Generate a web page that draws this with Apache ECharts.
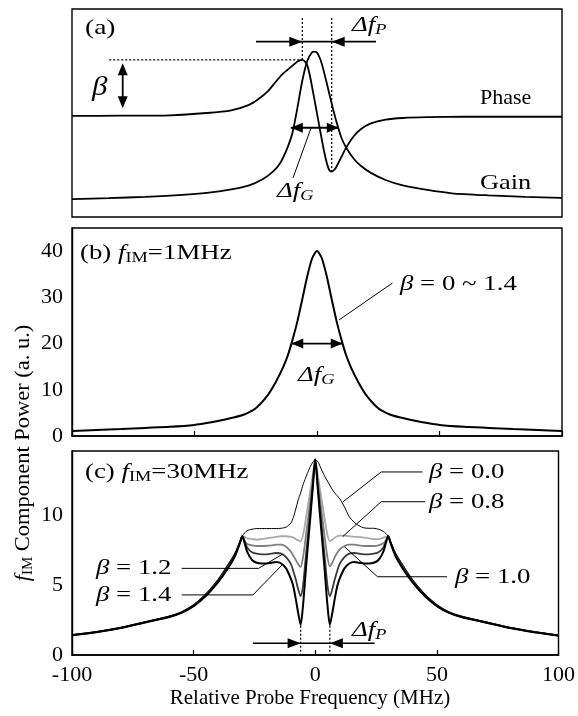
<!DOCTYPE html>
<html>
<head>
<meta charset="utf-8">
<script src="https://cdn.jsdelivr.net/npm/echarts@6.0.0/dist/echarts.min.js"></script>
<style>
html,body{margin:0;padding:0;background:#fff;}
#chart{width:578px;height:716px;}
</style>
</head>
<body>
<div id="chart"></div>
<script>
// ---------- Panel (a): gain and phase profiles (arbitrary units 0-100) ----------
const gainFreq = [-100,-85,-70,-55,-45,-35,-28,-22,-18,-15,-12,-10,-8,-6,-4,-2,-1,0,1,2,4,6,8,10,12,15,18,22,28,35,45,55,70,85,100];
const gainVal  = [8.6,9.1,9.7,10.6,11.6,13.3,15.1,18.3,21.8,26.0,33.5,40.5,52.5,65.5,75.0,79.2,79.5,79.0,76.8,73.5,64.3,54.5,45.5,38.0,33.2,28.0,24.5,21.2,17.8,15.2,13.0,11.4,10.4,9.7,9.2];
const phaseFreq = [-100,-80,-60,-45,-35,-28,-24,-20,-17,-14,-12,-10,-8,-7,-6,-5,-4,-3,-2,-1,0,1,2,3,4,5,6,7,8,10,12,15,18,22,28,35,45,60,80,100];
const phaseVal  = [48.6,48.7,48.9,50.0,51.3,53.8,56.6,60.5,64.8,68.8,70.8,72.8,74.7,75.3,75.5,74.8,73.0,68.5,62.5,56.2,49.8,43.3,37.0,31.0,26.0,22.6,21.8,22.6,24.3,29.0,33.6,38.8,42.3,45.0,46.8,47.6,48.0,48.2,48.2,48.2];

// ---------- Panel (b): fIM = 1 MHz ----------
const freqB  = [-100,-90,-80,-70,-60,-50,-45,-40,-35,-30,-25,-20,-17,-14,-12,-10,-8,-6,-4,-2,0,2,4,6,8,10,12,14,17,20,25,30,35,40,45,50,60,70,80,90,100];
const powerB = [1.1,1.3,1.5,1.75,2.0,2.4,2.8,3.3,3.9,4.6,6.0,8.9,11.5,14.7,17.3,20.8,24.8,29.6,34.5,38.4,40.0,38.4,34.5,29.6,24.8,20.8,17.3,14.7,11.5,8.9,6.0,4.6,3.9,3.3,2.8,2.4,2.0,1.75,1.5,1.3,1.1];
const yTicksB = [0,10,20,30,40];

// ---------- Panel (c): fIM = 30 MHz ----------
const freqC = [-100,-90,-80,-70,-60,-55,-50,-45,-40,-36,-33,-31,-30,-29,-28,-26,-24,-22,-20,-18,-16,-14,-12,-10,-9,-8,-7,-6,-5,-4,-3,-2,-1,0,1,2,3,4,5,6,7,8,9,10,12,14,16,18,20,22,24,26,28,29,30,31,33,36,40,45,50,55,60,70,80,90,100];
const beta00 = [1.45,1.67,1.97,2.37,2.78,3.08,3.6,4.38,5.4,6.45,7.3,8.1,8.5,
  8.75,8.9,9.0,9.05,9.05,9.05,9.05,9.05,9.07,9.15,9.45,9.85,10.45,11.1,11.6,12.2,12.65,13.1,13.5,13.8,
  14.0,
  13.85,13.5,13.1,12.75,12.45,12.15,11.85,11.6,11.4,11.2,10.6,9.9,9.5,9.25,9.1,9.07,9.07,9.0,8.85,8.7,
  8.5,8.1,7.3,6.45,5.4,4.38,3.6,3.08,2.78,2.37,1.97,1.67,1.42];
const beta08 = [1.44,1.66,1.96,2.36,2.77,3.07,3.58,4.34,5.35,6.38,7.25,8.07,8.5,
  8.45,8.35,8.3,8.25,8.3,8.35,8.4,8.45,8.5,8.5,8.45,8.4,8.3,8.2,8.15,8.6,9.6,10.7,11.8,12.9,
  14.0,
  12.9,11.8,10.7,9.6,8.6,8.15,8.25,8.4,8.5,8.55,8.55,8.5,8.45,8.45,8.4,8.35,8.3,8.3,8.4,8.45,
  8.5,8.07,7.25,6.38,5.35,4.34,3.58,3.07,2.77,2.36,1.96,1.66,1.41];
const beta10 = [1.43,1.65,1.95,2.35,2.76,3.06,3.56,4.32,5.32,6.33,7.2,8.05,8.5,
  8.2,7.95,7.85,7.8,7.8,7.82,7.85,7.9,7.9,7.75,7.4,7.1,6.8,6.5,6.3,7.0,8.3,9.7,11.1,12.6,
  14.0,
  12.6,11.1,9.7,8.3,7.0,6.35,6.6,7.0,7.3,7.55,7.8,7.9,7.9,7.85,7.8,7.8,7.8,7.85,8.0,8.2,
  8.5,8.05,7.2,6.33,5.32,4.32,3.56,3.06,2.76,2.35,1.95,1.65,1.4];
const beta12 = [1.42,1.64,1.94,2.34,2.74,3.04,3.53,4.28,5.27,6.27,7.15,8.02,8.5,
  8.1,7.7,7.35,7.25,7.2,7.2,7.25,7.3,7.25,7.0,6.5,6.0,5.4,4.7,4.2,5.0,6.8,8.6,10.4,12.2,
  14.0,
  12.2,10.4,8.6,6.8,5.0,4.2,4.7,5.4,6.0,6.5,7.0,7.25,7.3,7.25,7.2,7.2,7.25,7.35,7.7,8.1,
  8.5,8.02,7.15,6.27,5.27,4.28,3.53,3.04,2.74,2.34,1.94,1.64,1.39];
const beta14 = [1.41,1.63,1.93,2.33,2.72,3.02,3.5,4.22,5.2,6.18,7.08,8.0,8.5,
  8.0,7.4,6.8,6.6,6.55,6.55,6.6,6.65,6.55,6.2,5.45,4.9,4.0,3.0,2.15,3.6,5.8,7.9,9.9,12.0,
  14.0,
  12.0,9.9,7.9,5.8,3.6,2.15,3.0,4.0,4.9,5.45,6.2,6.55,6.65,6.6,6.55,6.55,6.6,6.8,7.4,8.0,
  8.5,8.0,7.08,6.18,5.2,4.22,3.5,3.02,2.72,2.33,1.93,1.63,1.38];
const yTicksC = [0,5,10];
const xTicks = [-100,-50,0,50,100];

// ---------- chart ----------
const FAM = '"Liberation Serif", "Times New Roman", serif';
const chart = echarts.init(document.getElementById('chart'), null, {renderer:'canvas'});
const zip = (xs, ys) => xs.map((x,i) => [x, ys[i]]);

const gridBox = [
  {left:72, top:9,   width:490, height:208},
  {left:72, top:228, width:490, height:208},
  {left:72, top:451, width:490, height:204}
];
const xAxes = gridBox.map((g,i) => ({
  type:'value', gridIndex:i, min:xTicks[0], max:xTicks[xTicks.length-1], interval:xTicks[1]-xTicks[0],
  axisLine:{show:i>0, onZero:false, lineStyle:{color:'#000', width:1.6}},
  axisTick:{show:i>0, inside:true, length:5, lineStyle:{color:'#000', width:1.2}},
  axisLabel:{show:i===2, color:'#000', fontFamily:FAM, fontSize:22, margin:9},
  splitLine:{show:false}
}));
const yAxes = [
  {type:'value', gridIndex:0, min:0, max:100, show:false},
  {type:'value', gridIndex:1, min:0, max:45, interval:yTicksB[1]-yTicksB[0],
   axisLine:{show:true, onZero:false, lineStyle:{color:'#000', width:1.4}}, axisTick:{show:false},
   axisLabel:{color:'#000', fontFamily:FAM, fontSize:22, margin:9, showMaxLabel:false,
     formatter:v => yTicksB.includes(v) ? String(v) : ''},
   splitLine:{show:false}},
  {type:'value', gridIndex:2, min:0, max:14.6, interval:yTicksC[1]-yTicksC[0],
   axisLine:{show:true, onZero:false, lineStyle:{color:'#000', width:1.4}}, axisTick:{show:false},
   axisLabel:{color:'#000', fontFamily:FAM, fontSize:22, margin:9, showMaxLabel:false,
     formatter:v => yTicksC.includes(v) ? String(v) : ''},
   splitLine:{show:false}}
];
function ser(g, data, color, width, z){
  return {type:'line', xAxisIndex:g, yAxisIndex:g, data, showSymbol:false, symbol:'none',
    smooth:0.25, lineStyle:{color, width}, z:z||2, animation:false, silent:true};
}
chart.setOption({
  animation:false,
  backgroundColor:'#fff',
  grid: gridBox.map(g => Object.assign({show:true, borderColor:'#000', borderWidth:1.4, backgroundColor:'transparent'}, g)),
  xAxis: xAxes,
  yAxis: yAxes,
  series: [
    ser(0, zip(gainFreq, gainVal), '#000', 1.8),
    ser(0, zip(phaseFreq, phaseVal), '#000', 1.8),
    ser(1, zip(freqB, powerB), '#000', 2),
    ser(2, zip(freqC, beta08), '#aaaaaa', 1.8, 2),
    ser(2, zip(freqC, beta10), '#808080', 1.8, 3),
    ser(2, zip(freqC, beta12), '#3a3a3a', 1.8, 4),
    ser(2, zip(freqC, beta14), '#000', 2, 5),
    ser(2, zip(freqC, beta00), '#000', 1, 6)
  ]
});

// ---------- annotations ----------
const P = (g, x, y) => chart.convertToPixel({gridIndex:g}, [x, y]);
const G = [];
function seg(a, b, w, dash){
  G.push({type:'line', z:20, silent:true, shape:{x1:a[0],y1:a[1],x2:b[0],y2:b[1]},
    style:{stroke:'#000', lineWidth:w, lineDash:dash||null}});
}
function pline(pts, w){
  G.push({type:'polyline', z:20, silent:true, shape:{points:pts}, style:{stroke:'#000', lineWidth:w, fill:null}});
}
function head(tip, from, len, half){
  const dx = tip[0]-from[0], dy = tip[1]-from[1], L = Math.hypot(dx,dy);
  const ux = dx/L, uy = dy/L, bx = tip[0]-ux*len, by = tip[1]-uy*len;
  G.push({type:'polygon', z:21, silent:true,
    shape:{points:[tip, [bx-uy*half, by+ux*half], [bx+uy*half, by-ux*half]]}, style:{fill:'#000'}});
}
const ctx = document.createElement('canvas').getContext('2d');
const fstr = (sz, it) => (it ? 'italic ' : '') + sz + 'px ' + FAM;
// parts: [text, italic, size, dy]
function runs(parts, x, y, o){
  o = o || {};
  const sx = o.sx || 1;
  let w = 0;
  parts.forEach(p => { ctx.font = fstr(p[2], p[1]); w += ctx.measureText(p[0]).width; });
  let cx = o.center ? -w/2 : 0;
  const kids = [];
  parts.forEach(p => {
    ctx.font = fstr(p[2], p[1]);
    kids.push({type:'text', z:22, silent:true, x:cx, y:(p[3]||0),
      style:{text:p[0], font:fstr(p[2], p[1]), fill:'#000', textAlign:'left', textVerticalAlign:'middle', align:'left', verticalAlign:'middle'}});
    cx += ctx.measureText(p[0]).width;
  });
  const grp = {type:'group', x:x, y:y, scaleX:sx, rotation:o.rot||0, children:kids};
  G.push(grp);
}
const S = 22, SUB = 15, SX = 1.22;

// Panel (a)
seg(P(0,-6,95.7), P(0,-6,75.5), 1.2, [2,2]);
seg(P(0,6,95.7), P(0,6,21.8), 1.2, [2,2]);
seg(P(0,-84.8,75.5), P(0,-6,75.5), 1.2, [2,2]);
seg(P(0,-24.9,84.3), P(0,24.1,84.3), 1.6);
head(P(0,-6,84.3), P(0,-24.9,84.3), 13, 5);
head(P(0,6,84.3), P(0,24.1,84.3), 13, 5);
seg(P(0,-79.3,70), P(0,-79.3,56), 1.8);
head(P(0,-79.3,73.9), P(0,-79.3,52.3), 12, 5);
head(P(0,-79.3,52.3), P(0,-79.3,73.9), 12, 5);
seg(P(0,-10.7,42.9), P(0,8.9,42.9), 1.8);
head(P(0,-10.7,42.9), P(0,8.9,42.9), 12, 5);
head(P(0,8.9,42.9), P(0,-10.7,42.9), 12, 5);
seg(P(0,-2.4,42.9), P(0,-9.8,18.75), 1);
runs([['(a)',false,S]], 85, 28, {sx:1.25});
runs([['Δ',true,S],['f',true,S],['P',true,SUB,5]], 352, 25, {sx:SX});
runs([['β',true,27]], 92, 88, {sx:1.15});
runs([['Δ',true,S],['f',true,S],['G',true,SUB,5]], 277, 191, {sx:SX});
runs([['Phase',false,S]], 480, 98);
runs([['Gain',false,S]], 480, 183, {sx:1.2});

// Panel (b)
runs([['(b) ',false,S],['f',true,S],['IM',false,SUB,5],['=1MHz',false,S]], 80, 253, {sx:SX});
runs([['β',true,S],[' = 0 ~ 1.4',false,S]], 400, 284, {sx:SX});
seg(P(1,30.8,33.1), P(1,9.0,25.1), 1);
seg(P(1,-10.5,20), P(1,10.5,20), 1.8);
head(P(1,-10.5,20), P(1,10.5,20), 12, 5);
head(P(1,10.5,20), P(1,-10.5,20), 12, 5);
runs([['Δ',true,S],['f',true,S],['G',true,SUB,5]], 298, 375, {sx:SX});

// Panel (c)
runs([['(c) ',false,S],['f',true,S],['IM',false,SUB,5],['=30MHz',false,S]], 85, 472, {sx:SX});
const leaders = [
  [[44.1,13.1],[27.1,13.1],[11.3,10.95]],
  [[45.1,10.97],[27.1,10.97],[11.3,8.47]],
  [[54.2,5.6],[25.6,5.6],[12.0,7.75]],
  [[-54.9,6.2],[-23.3,6.2],[-13.6,7.2]],
  [[-54.9,4.3],[-25.6,4.3],[-13.6,6.45]]
];
leaders.forEach(l => pline(l.map(p => P(2,p[0],p[1])), 1));
runs([['β',true,S],[' = 0.0',false,S]], 429, 472, {sx:SX});
runs([['β',true,S],[' = 0.8',false,S]], 429, 502, {sx:SX});
runs([['β',true,S],[' = 1.0',false,S]], 455, 577, {sx:SX});
runs([['β',true,S],[' = 1.2',false,S]], 96, 568, {sx:SX});
runs([['β',true,S],[' = 1.4',false,S]], 96, 595, {sx:SX});
seg(P(2,-6,2.1), P(2,-6,0), 1.2, [2,2]);
seg(P(2,6,2.1), P(2,6,0), 1.2, [2,2]);
seg(P(2,-25.6,0.84), P(2,24.4,0.84), 1.6);
head(P(2,-6,0.84), P(2,-25.6,0.84), 13, 5);
head(P(2,6,0.84), P(2,24.4,0.84), 13, 5);
runs([['Δ',true,S],['f',true,S],['P',true,SUB,5]], 352, 630, {sx:SX});

// Axis titles
runs([['Relative Probe Frequency (MHz)',false,21]], 310, 698, {center:true});
runs([['f',true,21],['IM',false,14,5],[' Component Power (a. u.)',false,21]], 23, 453, {center:true, rot:Math.PI/2, sx:1.07});

chart.setOption({graphic:G});
</script>
</body>
</html>
